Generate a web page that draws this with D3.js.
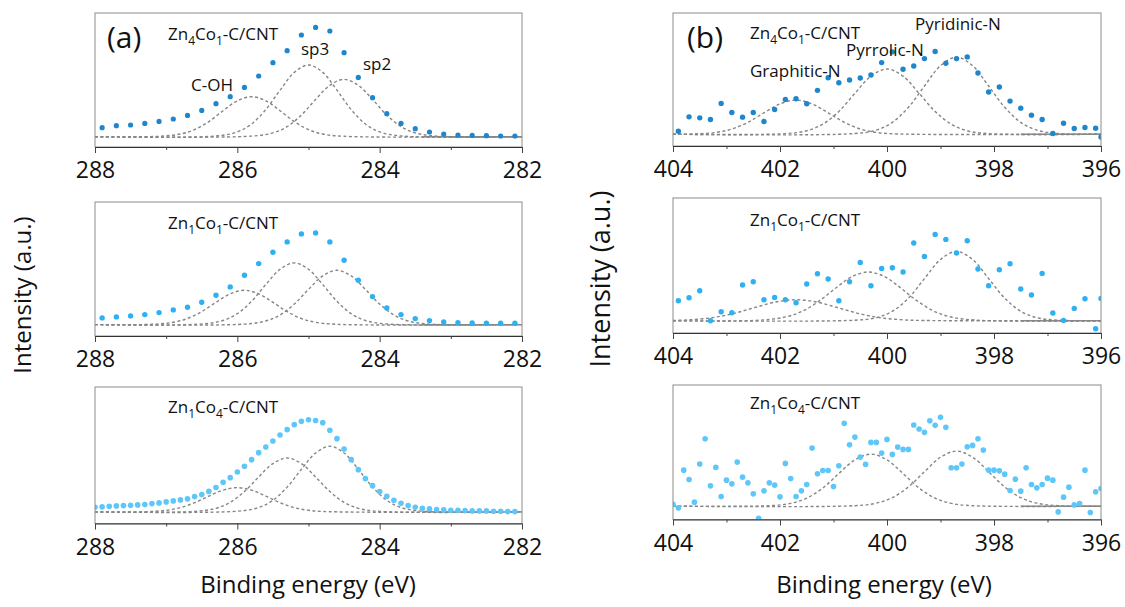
<!DOCTYPE html>
<html>
<head>
<meta charset="utf-8">
<script src="https://cdn.jsdelivr.net/npm/d3@7/dist/d3.min.js"></script>
<style>
  body { margin: 0; background: #fff; }
  text { font-family: "Open Sans", sans-serif; fill: #111; }
</style>
</head>
<body>
<div id="chart"></div>
<script>
// ---- C 1s data, (a) ----
// sample names as [main, sub, main, sub, rest]
const sampleTop = ['Zn', '4', 'Co', '1', '-C/CNT'];
const sampleMid = ['Zn', '1', 'Co', '1', '-C/CNT'];
const sampleBot = ['Zn', '1', 'Co', '4', '-C/CNT'];

const cTicks = [288, 286, 284, 282];
const cMinor = [287, 285, 283];
const nTicks = [404, 402, 400, 398, 396];
const nMinor = [403, 401, 399, 397];

// measured points (intensity above background, a.u.)
const cTopCounts = [9.0, 11.0, 11.7, 13.3, 15.3, 17.7, 21.3, 26.3, 33.0, 40.0, 49.3, 60.7, 74.0, 86.0, 101.7,
  109.3, 105.7, 84.0, 59.3, 39.0, 23.0, 13.3, 8.0, 4.7, 2.7, 1.7, 1.3, 1.0, 0.7, 0.7];
const cMidCounts = [6.7, 7.7, 8.7, 10.0, 12.0, 14.7, 17.3, 22.3, 29.3, 37.7, 49.3, 61.0, 72.3, 82.7, 90.7,
  91.7, 82.7, 64.3, 44.3, 28.0, 16.7, 10.0, 6.0, 4.0, 2.7, 2.0, 1.7, 1.3, 1.3, 1.3];
const cBotCounts = [4.7, 5.0, 5.7, 6.0, 6.3, 6.7, 7.0, 7.3, 8.3, 9.0, 10.0, 11.0, 12.0, 13.0, 15.3, 17.3, 20.5,
  24.5, 29.7, 34.3, 40.0, 45.7, 52.3, 59.3, 65.0, 71.0, 77.0, 82.3, 87.3, 90.7, 92.3, 91.5, 89.3, 81.7, 73.3,
  63.0, 52.3, 42.3, 33.3, 26.3, 20.3, 15.7, 11.7, 8.7, 6.3, 4.7, 3.7, 3.0, 2.3, 2.0, 1.7, 1.7, 1.3, 1.0, 1.0,
  1.0, 0.7, 0.7, 0.3, 0.3];

// fitted components [eV, intensity]
const cTopCOH = [[288, 0], [287.1, 0.4], [286.8, 2.7], [286.6, 7.1], [286.4, 15.1], [286.2, 26.0], [286.0, 35.9], [285.8, 40],
  [285.6, 35.9], [285.4, 26.0], [285.2, 15.1], [285.0, 7.1], [284.8, 2.7], [284.5, 0.4], [282, 0]];
const cTopSp3 = [[288, 0], [286.3, 0.7], [286.0, 4.8], [285.8, 12.7], [285.6, 27.1], [285.4, 46.5], [285.2, 64.3], [285.0, 71.7],
  [284.8, 64.3], [284.6, 46.5], [284.4, 27.1], [284.2, 12.7], [284.0, 4.8], [283.7, 0.7], [282, 0]];
const cTopSp2 = [[288, 0], [285.8, 0.6], [285.5, 3.8], [285.3, 10.1], [285.1, 21.7], [284.9, 37.2], [284.7, 51.4], [284.5, 57.3],
  [284.3, 51.4], [284.1, 37.2], [283.9, 21.7], [283.7, 10.1], [283.5, 3.8], [283.2, 0.6], [282, 0]];

const cMidCOH = [[288, 0], [287.2, 0.3], [286.9, 2.3], [286.7, 6.1], [286.5, 13.0], [286.3, 22.3], [286.1, 30.8], [285.9, 34.3],
  [285.7, 30.8], [285.5, 22.3], [285.3, 13.0], [285.1, 6.1], [284.9, 2.3], [284.6, 0.3], [282, 0]];
const cMidSp3 = [[288, 0], [286.5, 0.6], [286.2, 4.1], [286.0, 10.9], [285.8, 23.3], [285.6, 40.0], [285.4, 55.3], [285.2, 61.7],
  [285.0, 55.3], [284.8, 40.0], [284.6, 23.3], [284.4, 10.9], [284.2, 4.1], [283.9, 0.6], [282, 0]];
const cMidSp2 = [[288, 0], [285.9, 0.5], [285.6, 3.6], [285.4, 9.6], [285.2, 20.5], [285.0, 35.2], [284.8, 48.7], [284.6, 54.3],
  [284.4, 48.7], [284.2, 35.2], [284.0, 20.5], [283.8, 9.6], [283.6, 3.6], [283.3, 0.5], [282, 0]];

const cBotCOH = [[288, 0], [287.3, 0.2], [287.0, 1.6], [286.8, 4.3], [286.6, 9.2], [286.4, 15.8], [286.2, 21.8], [286.0, 24.3],
  [285.8, 21.8], [285.6, 15.8], [285.4, 9.2], [285.2, 4.3], [285.0, 1.6], [284.7, 0.2], [282, 0]];
const cBotSp3 = [[288, 0], [286.6, 0.5], [286.3, 3.6], [286.1, 9.6], [285.9, 20.4], [285.7, 35.0], [285.5, 48.4], [285.3, 54],
  [285.1, 48.4], [284.9, 35.0], [284.7, 20.4], [284.5, 9.6], [284.3, 3.6], [284.0, 0.5], [282, 0]];
const cBotSp2 = [[288, 0], [286.0, 0.7], [285.7, 4.4], [285.5, 11.6], [285.3, 24.8], [285.1, 42.6], [284.9, 58.9], [284.7, 65.7],
  [284.5, 58.9], [284.3, 42.6], [284.1, 24.8], [283.9, 11.6], [283.7, 4.4], [283.4, 0.7], [282, 0]];
const cBackground = [[283.4, 0], [282, 0]];

// ---- N 1s data, (b) ----
const nTopCounts = [3.0, 17.3, 16.3, 14.7, 30.7, 21.7, 17.0, 21.7, 12.7, 24.7, 34.7, 35.3, 30.3, 43.7, 56.3, 51.3,
  54.0, 56.0, 59.0, 71.3, 82.0, 64.7, 68.0, 75.3, 82.3, 70.7, 75.3, 77.0, 61.0, 42.0, 47.0, 33.0, 26.0, 19.0,
  14.7, 0.7, 11.0, 5.7, 6.7, 6.0, -2.7];
const nMidCounts = [20, 23, 30, 0, 9, 8, 35.7, 39, 21, 23.3, 21, 18, 36.7, 47, 41.7, 20, 39, 58.3, 35, 52.3, 53,
  48.7, 77.7, 64.3, 86.3, 81.3, 67.7, 80, 51.7, 35, 51, 57, 31.7, 25.7, 47.3, 7.7, 0.3, 12.3, 22, -8, 22.3];
const nBotCounts = [2, -1.7, 36, 26.7, 4, 42, 67.3, 20.3, 38.7, 9.7, 26, 22.3, 44, 29, 23.3, 12.3, -12, 15.3, 23.3,
  21, 9.3, 42.7, 27.7, 9.7, 15.3, 21.7, 58, 32.3, 35.7, 35.7, 19.7, 40.3, 82.7, 61.3, 69, 49, 41.7, 63.7, 63.7,
  53, 66.7, 51.7, 59, 56.7, 56.7, 81, 77, 73.7, 85.3, 80.7, 88.7, 78.7, 38.3, 38.3, 42, 59.3, 60.7, 67.3, 56, 36,
  36, 35.3, 32, 15.7, 27, 15, 38.3, 21.7, 18.3, 21.7, 28, 26, -5.7, 9, 19, 1.3, 2.7, 36, -6.3, 14.3, 17.7];

const nTopGraphitic = [[404, 0], [403.6, 0.3], [403.2, 1.8], [402.9, 5.2], [402.6, 11.9], [402.3, 21.3], [402.0, 30.2], [401.7, 34],
  [401.4, 30.2], [401.1, 21.3], [400.8, 11.9], [400.5, 5.2], [400.2, 1.8], [399.8, 0.3], [396, 0]];
const nTopPyrrolic = [[404, 0], [401.9, 0.6], [401.5, 3.5], [401.2, 10.0], [400.9, 22.7], [400.6, 40.7], [400.3, 57.8], [400.0, 65],
  [399.7, 57.8], [399.4, 40.7], [399.1, 22.7], [398.8, 10.0], [398.5, 3.5], [398.1, 0.6], [396, 0]];
const nTopPyridinic = [[404, 0], [400.6, 0.7], [400.2, 4.1], [399.9, 11.8], [399.6, 26.8], [399.3, 48.0], [399.0, 68.2], [398.7, 76.7],
  [398.4, 68.2], [398.1, 48.0], [397.8, 26.8], [397.5, 11.8], [397.2, 4.1], [396.8, 0.7], [396, 0]];

const nMidGraphitic = [[404, 0.2], [403.7, 0.9], [403.3, 2.8], [402.9, 6.8], [402.5, 12.7], [402.1, 18.5], [401.7, 21],
  [401.3, 18.5], [400.9, 12.7], [400.5, 6.8], [400.1, 2.8], [399.7, 0.9], [399.3, 0.2], [396, 0]];
const nMidPyrrolic = [[404, 0], [402.35, 0.6], [401.85, 4.3], [401.55, 10.3], [401.25, 20.3], [400.95, 33.0], [400.65, 44.2], [400.35, 48.7],
  [400.05, 44.2], [399.75, 33.0], [399.45, 20.3], [399.15, 10.3], [398.85, 4.3], [398.35, 0.6], [396, 0]];
const nMidPyridinic = [[404, 0], [400.6, 0.5], [400.2, 3.0], [399.9, 9.4], [399.6, 22.5], [399.3, 42.1], [399.0, 61.2], [398.7, 69.3],
  [398.4, 61.2], [398.1, 42.1], [397.8, 22.5], [397.5, 9.4], [397.2, 3.0], [396.8, 0.5], [396, 0]];

const nBotPyrrolic = [[404, 0], [402.2, 0.5], [401.8, 2.8], [401.5, 8.0], [401.2, 18.1], [400.9, 32.6], [400.6, 46.2], [400.3, 52],
  [400.0, 46.2], [399.7, 32.6], [399.4, 18.1], [399.1, 8.0], [398.8, 2.8], [398.4, 0.5], [396, 0]];
const nBotPyridinic = [[404, 0], [400.6, 0.5], [400.2, 3.0], [399.9, 8.5], [399.6, 19.2], [399.3, 34.4], [399.0, 48.9], [398.7, 55],
  [398.4, 48.9], [398.1, 34.4], [397.8, 19.2], [397.5, 8.5], [397.2, 3.0], [396.8, 0.5], [396, 0]];
const nBackground = [[397.5, 0], [396, 0]];

// energy grids of the scans
function grid(start, step, n) {
  return d3.range(n).map(i => +(start + step * i).toFixed(2));
}
const cCoarse = grid(287.9, -0.2, 30);
const cFine = grid(288.0, -0.1, 60);
const nCoarse = grid(403.9, -0.2, 40).concat([396.0]);
const nFine = grid(404.0, -0.1, 81);

const dark = '#1f86cc', mid = '#2db1f2', light = '#5ec7f9';

const panels = [
  {x: 95, w: 427, y: 13, h: 134, xDom: [288, 282], yDom: [-10.3, 123.7], e: cCoarse, v: cTopCounts, color: dark, r: 2.6,
    fits: [cTopCOH, cTopSp3, cTopSp2], bg: cBackground, ticks: cTicks, minor: cMinor, name: sampleTop, nx: 73, ny: 27,
    notes: [['C-OH', 96, 78], ['sp3', 206, 42], ['sp2', 268, 57]], tag: ['(a)', 12, 35]},
  {x: 95, w: 427, y: 202, h: 134, xDom: [288, 282], yDom: [-11.4, 122.6], e: cCoarse, v: cMidCounts, color: mid, r: 2.7,
    fits: [cMidCOH, cMidSp3, cMidSp2], bg: cBackground, ticks: cTicks, minor: cMinor, name: sampleMid, nx: 73, ny: 27},
  {x: 95, w: 427, y: 387, h: 136.5, xDom: [288, 282], yDom: [-11.6, 125], e: cFine, v: cBotCounts, color: light, r: 2.8,
    fits: [cBotCOH, cBotSp3, cBotSp2], bg: cBackground, ticks: cTicks, minor: cMinor, name: sampleBot, nx: 73, ny: 26},
  {x: 673, w: 428, y: 13, h: 133, xDom: [404, 396], yDom: [-11.7, 120.7], e: nCoarse, v: nTopCounts, color: dark, r: 2.7,
    fits: [nTopGraphitic, nTopPyrrolic, nTopPyridinic], bg: nBackground, ticks: nTicks, minor: nMinor, name: sampleTop, nx: 77, ny: 26,
    notes: [['Pyridinic-N', 242, 17], ['Pyrrolic-N', 173, 43], ['Graphitic-N', 77, 64]], tag: ['(b)', 14, 35]},
  {x: 673, w: 428, y: 198, h: 135, xDom: [404, 396], yDom: [-12.3, 122.7], e: nCoarse, v: nMidCounts, color: mid, r: 2.7,
    fits: [nMidGraphitic, nMidPyrrolic, nMidPyridinic], bg: nBackground, ticks: nTicks, minor: nMinor, name: sampleMid, nx: 77, ny: 28},
  {x: 673, w: 428, y: 385, h: 134.5, xDom: [404, 396], yDom: [-13.3, 121], e: nFine, v: nBotCounts, color: light, r: 2.8,
    fits: [nBotPyrrolic, nBotPyridinic], bg: nBackground, ticks: nTicks, minor: nMinor, name: sampleBot, nx: 77, ny: 24}
];

const svg = d3.select('#chart').append('svg')
  .attr('width', 1125)
  .attr('height', 607);

panels.forEach(drawPanel);
drawTitles();

function drawPanel(p, i) {
  const g = svg.append('g').attr('transform', `translate(${p.x},${p.y})`);
  const x = d3.scaleLinear().domain(p.xDom).range([0, p.w]);
  const y = d3.scaleLinear().domain(p.yDom).range([p.h, 0]);

  g.append('clipPath').attr('id', 'clip' + i)
    .append('rect').attr('width', p.w).attr('height', p.h);
  const plot = g.append('g').attr('clip-path', `url(#clip${i})`);

  const line = d3.line()
    .x(d => x(d[0]))
    .y(d => y(d[1]))
    .curve(d3.curveCatmullRom.alpha(0.5));

  plot.append('path')
    .datum(p.bg)
    .attr('d', d3.line().x(d => x(d[0])).y(d => y(d[1])))
    .attr('fill', 'none')
    .attr('stroke', '#8a8a8a')
    .attr('stroke-width', 1.4);

  plot.selectAll('.fit')
    .data(p.fits)
    .join('path')
    .attr('class', 'fit')
    .attr('d', line)
    .attr('fill', 'none')
    .attr('stroke', '#868686')
    .attr('stroke-width', 1.4)
    .attr('stroke-dasharray', '3,2.5');

  plot.selectAll('circle')
    .data(p.e.map((e, k) => [e, p.v[k]]))
    .join('circle')
    .attr('cx', d => x(d[0]))
    .attr('cy', d => y(d[1]))
    .attr('r', p.r)
    .attr('fill', p.color);

  // frame
  g.append('rect')
    .attr('width', p.w)
    .attr('height', p.h)
    .attr('fill', 'none')
    .attr('stroke', '#8c8c8c')
    .attr('stroke-width', 1);

  const axis = g.append('g')
    .attr('transform', `translate(0,${p.h})`)
    .call(d3.axisBottom(x).tickValues(p.ticks).tickSize(6).tickSizeOuter(0).tickPadding(9).tickFormat(d3.format('d')));
  axis.select('.domain').attr('stroke', '#333').attr('stroke-width', 1.2);
  axis.selectAll('line').attr('stroke', '#444');
  axis.selectAll('text')
    .style('font-family', '"Open Sans", sans-serif')
    .style('font-size', '23px')
    .attr('fill', '#111');

  g.append('g')
    .attr('transform', `translate(0,${p.h})`)
    .call(d3.axisBottom(x).tickValues(p.minor).tickSize(3).tickFormat(''))
    .call(a => a.select('.domain').remove())
    .selectAll('line').attr('stroke', '#444');

  sampleName(g, p.name, p.nx, p.ny);

  if (p.notes) {
    g.selectAll('.note')
      .data(p.notes)
      .join('text')
      .attr('class', 'note')
      .attr('x', d => d[1])
      .attr('y', d => d[2])
      .style('font-size', '17px')
      .text(d => d[0]);
  }
  if (p.tag) {
    g.append('text')
      .attr('x', p.tag[1])
      .attr('y', p.tag[2])
      .style('font-size', '30px')
      .text(p.tag[0]);
  }
}

function sampleName(g, parts, x, y) {
  const t = g.append('text').attr('x', x).attr('y', y).style('font-size', '17px');
  parts.forEach((s, k) => {
    const sub = k % 2 === 1 && k < 4;
    t.append('tspan')
      .attr('dy', sub ? 5 : (k > 0 ? -5 : 0))
      .style('font-size', sub ? '12px' : '17px')
      .text(s);
  });
}

function drawTitles() {
  svg.append('text')
    .attr('x', 308).attr('y', 593)
    .attr('text-anchor', 'middle')
    .style('font-size', '24px')
    .text('Binding energy (eV)');
  svg.append('text')
    .attr('x', 884).attr('y', 593)
    .attr('text-anchor', 'middle')
    .style('font-size', '24px')
    .text('Binding energy (eV)');

  svg.append('text')
    .attr('transform', 'translate(31,295) rotate(-90)')
    .attr('text-anchor', 'middle')
    .style('font-size', '24px')
    .text('Intensity (a.u.)');
  svg.append('text')
    .attr('transform', 'translate(610,279) rotate(-90)')
    .attr('text-anchor', 'middle')
    .style('font-size', '27px')
    .text('Intensity (a.u.)');
}
</script>
</body>
</html>
